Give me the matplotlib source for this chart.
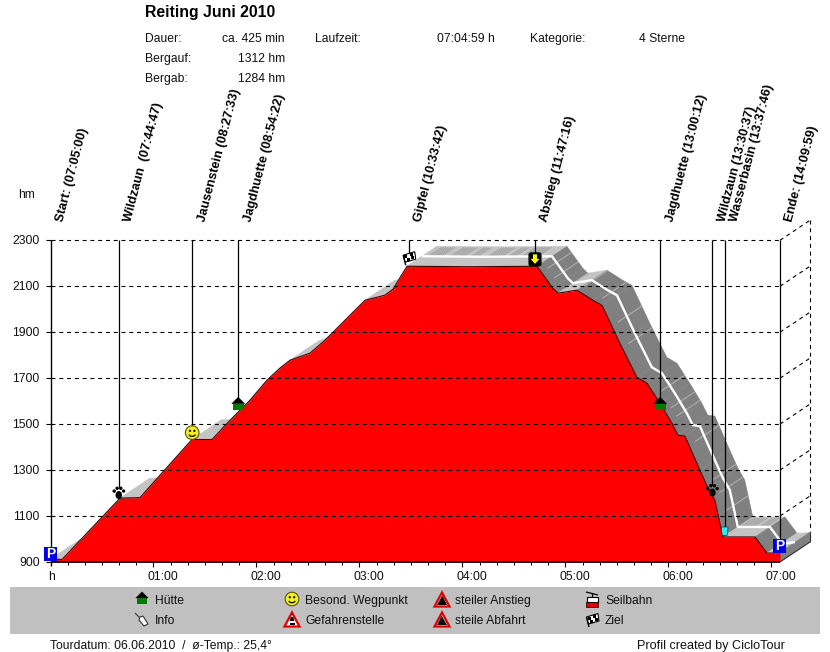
import numpy as np
import matplotlib
matplotlib.use("Agg")
import matplotlib.pyplot as plt
from matplotlib.patches import Polygon, Rectangle, Circle, Ellipse, FancyBboxPatch
from matplotlib.transforms import Affine2D

W, H = 830, 652
plt.rcParams['font.family'] = ['Liberation Sans', 'DejaVu Sans']

# ---- data ----
profile_t = [0, 6.7, 40.5, 52.1, 82.4, 94.1, 104.6, 116.2, 126.1, 133.7, 139.5, 151.2, 159.9,
             168.6, 183.2, 194.8, 199.5, 207.7, 244.4, 283.4, 292.7, 295.6, 306.7, 316, 321.3,
             331.7, 341.6, 347.5, 355, 362, 365.5, 369.6, 378.3, 383, 387, 391.7, 410.4, 417.4,
             420.9, 425]
profile_h = [913, 911, 1178, 1180, 1433, 1433, 1517, 1604, 1691, 1744, 1778, 1809, 1865,
             1930, 2039, 2061, 2087, 2187, 2185, 2187, 2091, 2070, 2083, 2039, 2017,
             1852, 1704, 1678, 1591, 1504, 1452, 1448, 1300, 1222, 1170, 1009, 1009, 939,
             939, 943]
event_labels = ["Start: (07:05:00)", "Wildzaun  (07:44:47)", "Jausenstein (08:27:33)",
                "Jagdhuette (08:54:22)", "Gipfel (10:33:42)", "Abstieg (11:47:16)",
                "Jagdhuette (13:00:12)", "Wildzaun (13:30:37)", "Wasserbasin (13:37:46)",
                "Ende: (14:09:59)"]
event_t = [0, 39.78, 82.55, 109.37, 208.7, 282.27, 355.2, 385.6, 392.77, 424.98]
icon_h = [934, 1200, 1463, 1589, 2222, 2217, 1589, 1211, 1035, 970]
event_icons = ['p', 'paw', 'smile', 'hut', 'flag', 'down', 'hut', 'paw', 'cup', 'p']
y_ticks = [900, 1100, 1300, 1500, 1700, 1900, 2100, 2300]
x_hours = [1, 2, 3, 4, 5, 6, 7]
x_labels = ["01:00", "02:00", "03:00", "04:00", "05:00", "06:00", "07:00"]
light_stripe_t = [286, 290, 296, 307, 318, 327, 333, 352, 358, 361, 372, 382, 386, 389]
dark_bands = [(8, 20), (53, 60), (95, 104), (211, 219), (224, 232), (236, 241), (246, 254),
              (258, 262), (266, 276), (393, 402), (404, 409)]
start_white = 17

fig = plt.figure(figsize=(W / 100, H / 100), dpi=100, facecolor='white')
L, R, T, B = 50.5, 780.5, 240.3, 562.0
ax = fig.add_axes([L / W, 1 - B / H, (R - L) / W, (B - T) / H])
ax.set_xlim(0, 425.3)
ax.set_ylim(900, 2300)
ax.patch.set_alpha(0)
for s in ax.spines.values():
    s.set_visible(False)
ax.set_xticks([])
ax.set_yticks([])
fig.canvas.draw()
pix = Affine2D().scale(1, -1).translate(0, H)     # artists given in image pixels


def P(t, h):
    x, y = ax.transData.transform((t, h))
    return x, H - y


def add(a):
    a.set_transform(pix)
    a.set_clip_on(False)
    ax.add_artist(a)
    return a


def line(xs, ys, c='k', lw=0.8, z=6, **kw):
    l, = ax.plot(xs, ys, color=c, lw=lw, zorder=z, transform=pix, clip_on=False,
                 solid_capstyle='butt', **kw)
    return l


def text(x, y, s, **kw):
    kw.setdefault('fontsize', 8.7)
    kw.setdefault('va', 'baseline')
    kw.setdefault('color', '#111111')
    kw.setdefault('zorder', 12)
    return ax.text(x, y + 4.2, s, transform=pix, clip_on=False, **kw)


DX, DY = 30, -20
pts = np.array([P(t, h) for t, h in zip(profile_t, profile_h)])

# ---- ribbon behind the profile ----
for i in range(len(pts) - 1):
    a, b = pts[i], pts[i + 1]
    falling = profile_h[i + 1] < profile_h[i] - 3
    col = '#808080' if falling else '#C4C4C4'
    add(Polygon([a, b, b + (DX, DY), a + (DX, DY)], fc=col, ec=col, lw=0.3, zorder=1))

# end wall of the ribbon
e = pts[-1]
bot = np.array(P(425, 900))
add(Polygon([e, e + (DX, DY), bot + (DX, DY), bot], fc='#808080', ec='#808080', lw=0.3, zorder=1.5))
line([bot[0], bot[0] + DX], [bot[1], bot[1] + DY], c='#333333', lw=0.8, z=1.6)
line([bot[0] + DX, bot[0] + DX], [bot[1] + DY, e[1] + DY], c='#333333', lw=0.8, z=1.6)

# stripes across the ribbon
pt = np.array(profile_t, float)
for t in light_stripe_t:
    x, y = P(t, np.interp(t, pt, profile_h))
    line([x + 6, x + DX], [y - 4, y + DY], c='#AEAEAE', lw=0.8, z=1.8)
for t0, t1 in dark_bands:
    for t in np.arange(t0, t1, 1.3):
        x, y = P(t, np.interp(t, pt, profile_h))
        line([x + 15, x + DX - 1], [y - 10, y + DY + 1], c='#A2A2A2', lw=0.6, z=1.8)

# white centre line
wp = pts[start_white:]
line(wp[:, 0] + DX / 2, wp[:, 1] + DY / 2, c='white', lw=1.7, z=2)

# ---- red profile ----
ax.fill_between(profile_t, profile_h, 900, color='#FF0000', lw=0, zorder=3, clip_on=False)
ax.plot(profile_t, profile_h, color='#400000', lw=0.8, zorder=3.2, clip_on=False)

# ---- grid and axes ----
DASH = (0, (3.6, 3.4))
for v in y_ticks:
    x0, y0 = P(0, v)
    x1, _ = P(425, v)
    if v > 900:
        line([x0, x1], [y0, y0], lw=0.8, z=4, ls=DASH)
        line([x1, x1 + DX], [y0, y0 + DY], lw=0.8, z=4, ls=DASH)
    line([x0 - 5, x0], [y0, y0], lw=0.8, z=6)
    text(39.5, y0, str(v), ha='right')
x1, y1 = P(425, 2300)
_, y2 = P(425, 900)
line([x1 + DX, x1 + DX], [y1 + DY, e[1] + DY], lw=0.8, z=1.2, ls=DASH)
x0, y0 = P(0, 900)
line([x0, x0], [y1, y0 + 4], lw=1.0, z=6)
line([x0, P(425, 900)[0]], [y0, y0], lw=1.2, z=6)
for m in range(10, 430, 10):
    x, _ = P(m, 900)
    line([x, x], [y0, y0 + 2.5], lw=0.7, z=6)
for hr, lab in zip(x_hours, x_labels):
    x, _ = P(hr * 60, 900)
    line([x, x], [y0, y0 + 4.5], lw=0.8, z=6)
    text(x + 9, 576, lab, ha='center')
text(x0 + 0.5, 576, 'h', ha='center')
text(18, 194, 'hm', ha='left')


# ---- icons ----
def hut(x, y, s=1.0):
    add(Polygon([(x - 6.5 * s, y), (x, y - 6.5 * s), (x + 6.5 * s, y)], fc='k', ec='k', lw=0.3, zorder=8))
    add(Rectangle((x - 5.5 * s, y), 11 * s, 6.5 * s, fc='#007A00', ec='none', zorder=8))


def smile(x, y):
    add(Circle((x, y), 6.8, fc='#F5EE20', ec='#555500', lw=0.8, zorder=8))
    add(Circle((x - 2.2, y - 1.8), 1.1, fc='k', ec='none', zorder=9))
    add(Circle((x + 2.2, y - 1.8), 1.1, fc='k', ec='none', zorder=9))
    line([x - 3.3, x - 1.5, x + 1.5, x + 3.3], [y + 2, y + 3.6, y + 3.6, y + 2], lw=0.9, z=9)


def pbox(x, y):
    add(Rectangle((x - 6.5, y - 7), 13, 14, fc='#0000E0', ec='none', zorder=10))
    ax.text(x, H - y, 'P', color='white', fontweight='bold', fontsize=10, ha='center',
            va='center', zorder=11, clip_on=False, transform=Affine2D())


def paw(x, y):
    add(Ellipse((x, y + 2), 6.5, 8, fc='k', ec='none', zorder=8))
    for dx, dy in [(-4.6, -2), (-1.6, -4.8), (2, -4.8), (4.8, -2)]:
        add(Circle((x + dx, y + dy), 1.7, fc='k', ec='none', zorder=8))


def flag(x, y):
    add(Polygon([(x - 5.5, y - 3), (x + 6, y - 6.5), (x + 7, y + 1), (x - 3.5, y + 4)],
                fc='white', ec='k', lw=0.8, zorder=8))
    for dx, dy in [(-3, -2), (2.5, -4), (-0.5, 1), (4, -1)]:
        add(Rectangle((x + dx - 1.5, y + dy - 1.5), 3, 3, fc='k', ec='none', zorder=9))
    line([x - 5.5, x - 3], [y - 3, y + 7], lw=1.0, z=9)


def down(x, y):
    add(FancyBboxPatch((x - 6, y - 6.5), 12, 13, boxstyle='round,pad=0,rounding_size=2',
                       fc='k', ec='k', lw=0.8, zorder=8))
    add(Polygon([(x - 2, y - 5), (x + 2, y - 5), (x + 2, y - 0.5), (x + 4.5, y - 0.5), (x, y + 4.5),
                 (x - 4.5, y - 0.5), (x - 2, y - 0.5)], fc='#FFFF00', ec='none', zorder=9))


def cup(x, y):
    add(Polygon([(x - 3.5, y - 4), (x + 3.5, y - 4), (x + 2.5, y + 4.5), (x - 2.5, y + 4.5)],
                fc='#30E8F0', ec='#004050', lw=0.5, zorder=8))


def warn(x, y, kind):
    add(Polygon([(x - 7.5, y + 6.5), (x, y - 7.5), (x + 7.5, y + 6.5)], fc='white', ec='#E00000',
                lw=1.6, zorder=8, joinstyle='miter'))
    if kind == 'gefahr':
        add(Polygon([(x - 1.3, y - 3), (x + 1.3, y - 3), (x + 2.2, y + 1), (x - 2.2, y + 1)], fc='k', ec='none', zorder=9))
        add(Rectangle((x - 2.5, y + 2.5), 5, 2.5, fc='k', ec='none', zorder=9))
    elif kind == 'up':
        add(Polygon([(x - 5, y + 5), (x + 0.3, y - 4.5), (x + 5, y + 5)], fc='k', ec='none', zorder=9))
    else:
        add(Polygon([(x - 5, y + 5), (x - 0.3, y - 4.5), (x + 5, y + 5)], fc='#111111', ec='none', zorder=9))


def gondola(x, y):
    line([x - 6, x + 6], [y - 8, y - 5], lw=0.9, z=9)
    line([x, x], [y - 7, y - 3], lw=0.9, z=9)
    add(Rectangle((x - 5.5, y - 3), 11, 4.5, fc='white', ec='k', lw=0.8, zorder=8))
    add(Rectangle((x - 6, y + 1.5), 12, 5, fc='#D80000', ec='k', lw=0.5, zorder=8))


def pin(x, y):
    line([x - 7, x + 1], [y - 7, y + 1], c='#333333', lw=0.8, z=9)
    add(Polygon([(x - 2, y - 3), (x + 1, y - 4), (x + 6, y + 4), (x + 2, y + 6), (x - 3, y)],
                fc='white', ec='#333333', lw=0.8, zorder=9))


half = {'p': 7, 'paw': 6, 'smile': 7, 'hut': 6, 'flag': 5, 'down': 6, 'cup': 4, }
draw = {'p': pbox, 'paw': paw, 'smile': smile, 'hut': hut, 'flag': flag, 'down': down, 'cup': cup}
for i, (t, v, kind, lab) in enumerate(zip(event_t, icon_h, event_icons, event_labels)):
    x, y = P(t, v)
    draw[kind](x, y)
    if i:
        line([x, x], [y1, y - half[kind]], lw=0.9, z=5)
    ax.text(x + 12.5, 222.5, lab, transform=pix, rotation=75.5, rotation_mode='anchor', ha='left',
            va='baseline', fontweight='bold', fontsize=9.15, color='black', clip_on=False, zorder=12)

# ---- header ----
text(145, 13, 'Reiting Juni 2010', fontweight='bold', fontsize=11.4, color='black', ha='left')
for y, a, b in [(37.5, 'Dauer:', 'ca. 425 min'), (57.5, 'Bergauf:', '1312 hm'), (77.5, 'Bergab:', '1284 hm')]:
    text(145, y, a, ha='left')
    text(285, y, b, ha='right')
text(315, 37.5, 'Laufzeit:', ha='left')
text(495, 37.5, '07:04:59 h', ha='right')
text(530, 37.5, 'Kategorie:', ha='left')
text(639, 37.5, '4 Sterne', ha='left')

# ---- legend band ----
add(Rectangle((10, 587), 810, 47, fc='#C0C0C0', ec='none', zorder=7))
hut(142, 598, 0.95)
text(155, 600, 'Hütte', ha='left')
pin(142, 620)
text(155, 620, 'Info', ha='left')
smile(292, 599)
text(305, 600, 'Besond. Wegpunkt', ha='left')
warn(292, 620, 'gefahr')
text(305, 620, 'Gefahrenstelle', ha='left')
warn(442, 600, 'up')
text(455, 600, 'steiler Anstieg', ha='left')
warn(442, 620, 'down')
text(455, 620, 'steile Abfahrt', ha='left')
gondola(592, 600)
text(605, 600, 'Seilbahn', ha='left')
flag(592, 620)
text(605, 620, 'Ziel', ha='left')

text(50, 645, 'Tourdatum: 06.06.2010  /  ø-Temp.: 25,4°', ha='left')
text(785, 645, 'Profil created by CicloTour', ha='right', fontsize=9.05)

fig.savefig('out.png', dpi=100)
